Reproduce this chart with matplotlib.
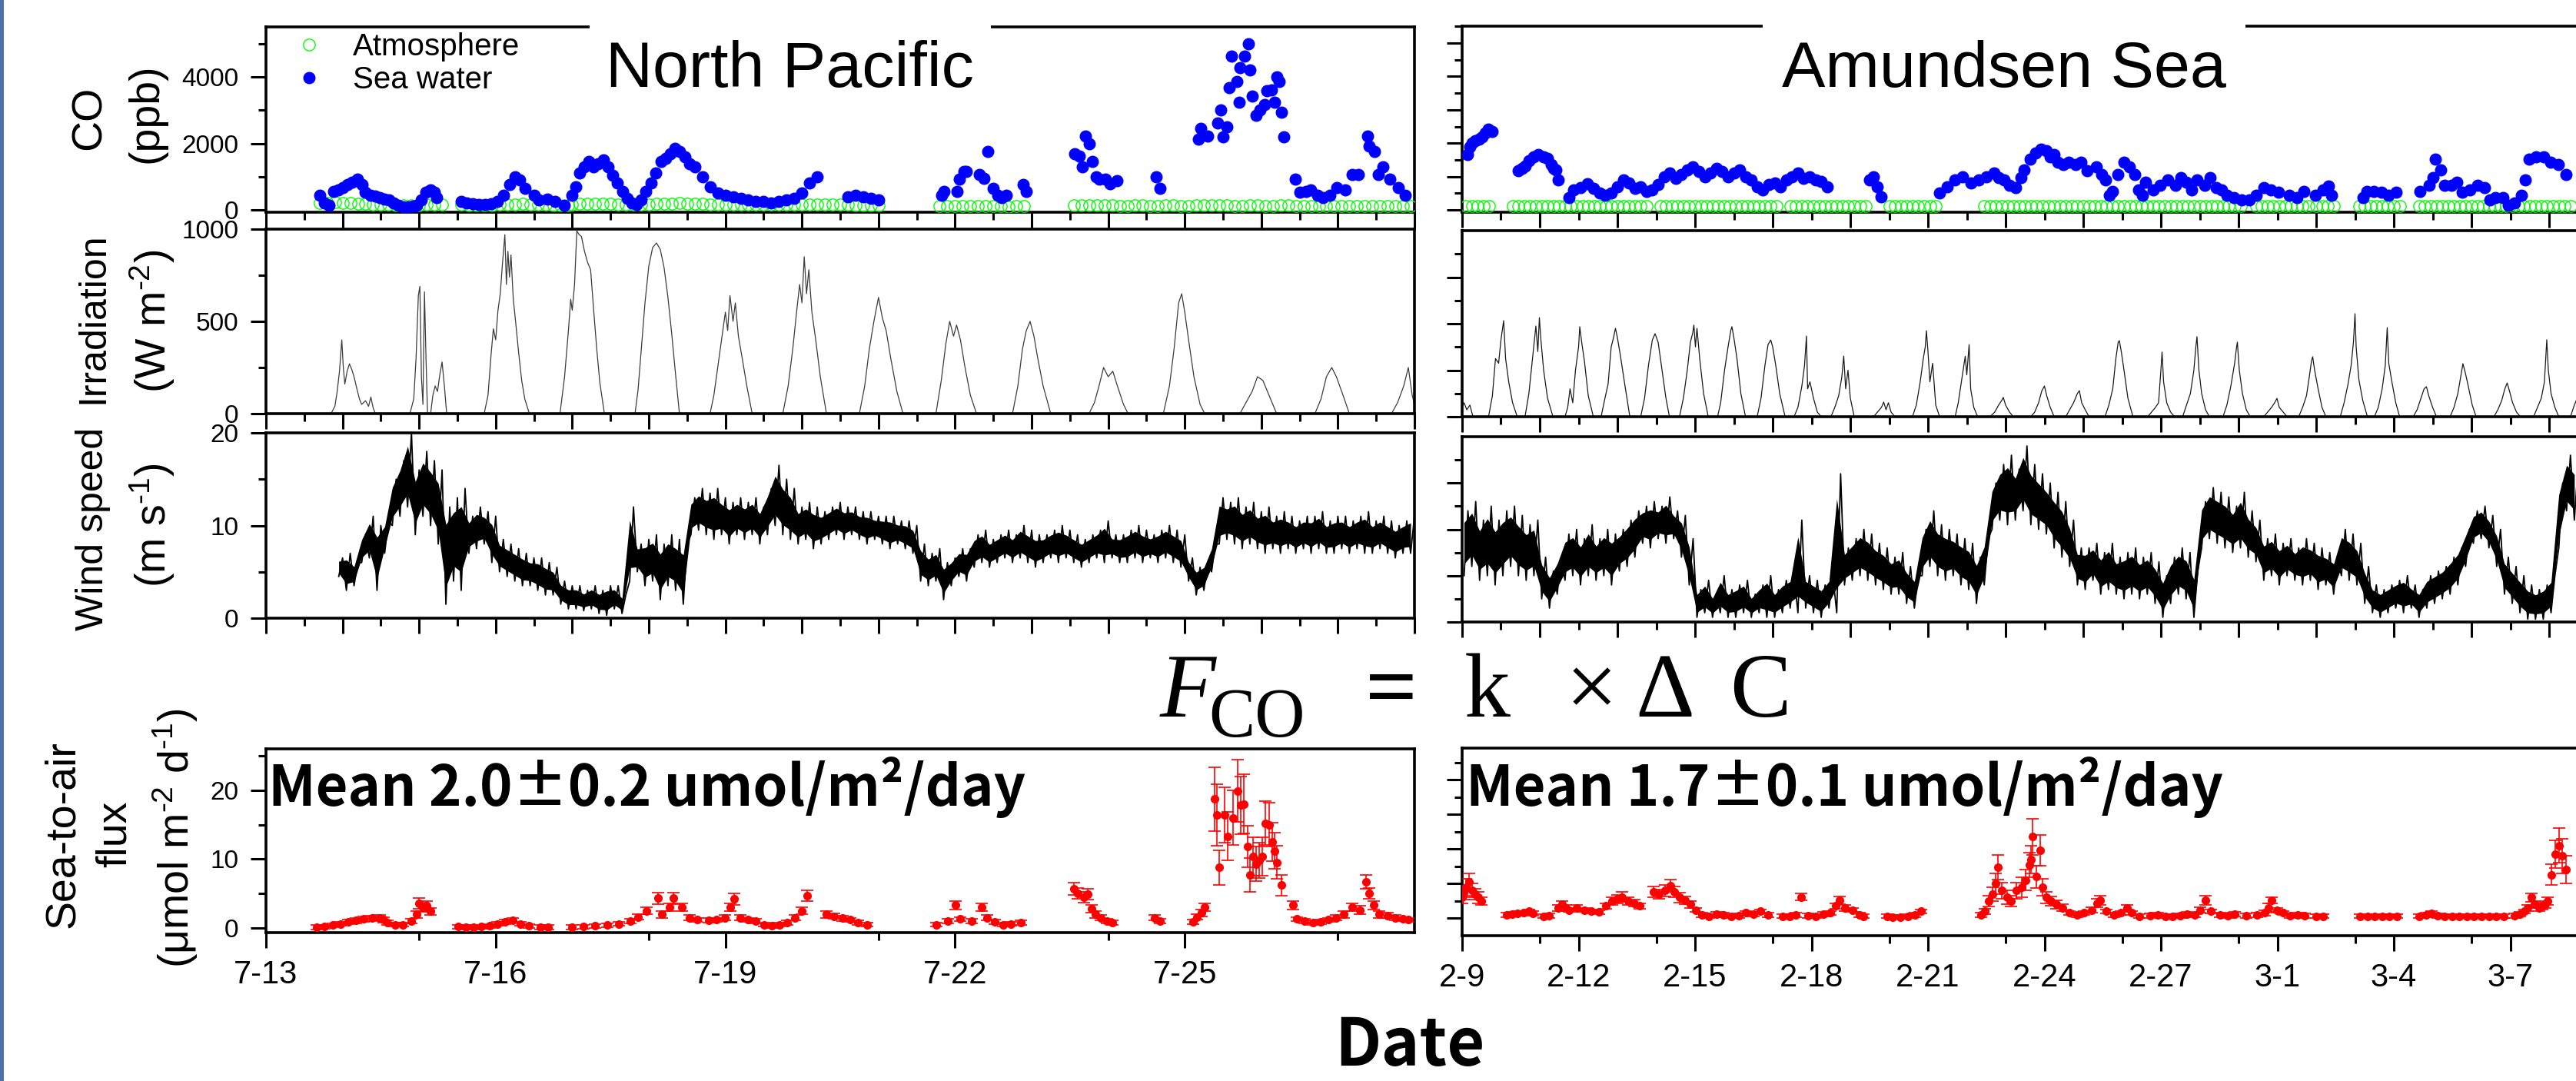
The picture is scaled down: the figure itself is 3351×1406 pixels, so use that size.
import matplotlib
matplotlib.use("Agg")
import matplotlib.pyplot as plt
from matplotlib.lines import Line2D
from matplotlib.patches import Rectangle

plt.rcParams['font.family'] = ['Liberation Sans', 'DejaVu Sans']
plt.rcParams['mathtext.fontset'] = 'custom'
plt.rcParams['mathtext.rm'] = 'Liberation Sans'
plt.rcParams['mathtext.it'] = 'Liberation Sans:italic'
plt.rcParams['mathtext.bf'] = 'Liberation Sans:bold'

# ------------------------------------------------------------------ data
# x values are days after the first tick date of each cruise
np_tick_labels = ['7-13', '7-16', '7-19', '7-22', '7-25']
as_tick_labels = ['2-9', '2-12', '2-15', '2-18', '2-21', '2-24', '2-27', '3-1', '3-4', '3-7']

# CO (ppb) sea water, North Pacific: (day, ppb)
np_co_sea = [(0.70,450),(0.76,217),(0.82,140),(0.88,566),(0.94,605),(1.00,682),(1.06,760),(1.12,837),(1.19,915),(1.25,760),
 (1.30,527),(1.37,450),(1.43,411),(1.49,372),(1.55,333),(1.61,295),(1.67,217),(1.73,140),(1.80,101),(1.86,101),
 (1.92,120),(1.97,140),(2.03,295),(2.09,527),(2.15,605),(2.20,527),(2.23,372),
 (2.55,255),(2.62,200),(2.70,180),(2.78,160),(2.86,170),(2.94,190),(3.02,250),(3.10,450),(3.18,760),(3.25,990),
 (3.31,900),(3.38,643),(3.50,450),(3.56,300),(3.67,333),(3.78,260),(3.90,140),
 (4.00,450),(4.05,700),(4.10,1100),(4.16,1300),(4.22,1450),(4.28,1300),(4.34,1400),(4.41,1500),(4.47,1300),(4.53,1050),
 (4.59,800),(4.66,550),(4.72,350),(4.78,200),(4.84,150),(4.90,300),(4.96,550),(5.03,800),(5.09,1100),(5.16,1450),
 (5.22,1550),(5.28,1700),(5.34,1850),(5.40,1750),(5.47,1600),(5.53,1400),(5.60,1300),(5.70,1000),(5.80,700),(5.90,500),
 (6.00,450),(6.10,400),(6.20,350),(6.30,300),(6.40,250),(6.50,250),(6.60,200),(6.70,250),(6.80,300),(6.90,350),
 (7.00,500),(7.10,800),(7.20,1000),
 (7.60,400),(7.70,450),(7.80,400),(7.90,350),(8.00,300),
 (8.83,450),(8.86,566),(9.03,566),(9.06,915),(9.12,1147),(9.15,1147),(9.32,1070),(9.38,953),(9.43,1767),(9.50,643),
 (9.56,450),(9.61,372),(9.67,450),(9.89,760),(9.93,566),
 (10.56,1690),(10.62,1612),(10.66,1302),(10.70,2232),(10.75,2000),(10.79,1457),(10.84,992),(10.88,915),(10.96,915),(11.02,798),(11.11,876),
 (11.63,990),(11.68,640),
 (12.18,2120),(12.21,2460),(12.30,2230),(12.43,2620),(12.47,3000),(12.50,2190),(12.55,2500),(12.58,3670),(12.61,4630),(12.68,3860),
 (12.71,3240),(12.72,4280),(12.78,4630),(12.83,5000),(12.85,4220),(12.88,3430),(12.93,2850),(12.98,3000),(13.04,3160),(13.07,3590),
 (13.13,3620),(13.17,3240),(13.20,4010),(13.23,3860),(13.26,2930),(13.29,2190),
 (13.44,915),(13.50,530),(13.58,560),(13.64,600),(13.73,450),(13.81,370),(13.90,450),(13.99,680),(14.10,600),(14.19,1070),
 (14.27,1070),(14.39,2230),(14.41,1920),(14.48,1770),(14.53,1070),(14.59,1300),(14.68,915),(14.79,680),(14.88,450)]

# CO (ppb) atmosphere, North Pacific
np_co_atm = [(0.7,200),(0.8,210),(0.9,220),(1.0,210),(1.1,200),(1.2,190),(1.3,180),(1.4,170),(1.5,160),(1.6,150),
 (1.7,140),(1.8,140),(1.9,130),(2.0,130),(2.1,150),(2.2,160),(2.3,170),
 (2.55,150),(2.65,140),(2.75,140),(2.85,130),(2.95,130),(3.05,150),(3.15,160),(3.25,170),(3.35,180),(3.45,170),
 (3.55,160),(3.65,150),(3.75,140),(3.85,130),(3.95,130),
 (4.0,170),(4.1,180),(4.2,190),(4.3,190),(4.4,180),(4.5,180),(4.6,170),(4.7,170),(4.8,160),(4.9,160),
 (5.0,170),(5.1,180),(5.2,190),(5.3,190),(5.4,200),(5.5,190),(5.6,180),(5.7,180),(5.8,170),(5.9,170),
 (6.0,170),(6.1,160),(6.2,160),(6.3,160),(6.4,150),(6.5,150),(6.6,150),(6.7,160),(6.8,160),(6.9,170),
 (7.0,170),(7.1,170),(7.2,160),(7.3,160),(7.4,150),(7.5,150),(7.6,150),(7.7,140),(7.8,140),(7.9,140),(8.0,140),
 (8.8,110),(8.9,110),(9.0,120),(9.1,120),(9.2,110),(9.3,110),(9.4,120),(9.5,110),(9.6,110),(9.7,100),(9.8,110),(9.9,110),
 (10.55,130),(10.65,130),(10.75,140),(10.85,140),(10.95,130),(11.05,130),(11.15,120),(11.25,120),(11.35,130),(11.45,130),
 (11.55,120),(11.65,120),(11.75,130),(11.85,130),(11.95,120),(12.05,120),(12.15,130),(12.25,130),(12.35,140),(12.45,130),
 (12.55,130),(12.65,120),(12.75,120),(12.85,130),(12.95,130),(13.05,120),(13.15,120),(13.25,130),(13.35,130),(13.45,120),
 (13.55,110),(13.65,110),(13.75,120),(13.85,120),(13.95,110),(14.05,110),(14.15,120),(14.25,120),(14.35,110),(14.45,110),
 (14.55,120),(14.65,120),(14.75,110),(14.85,110),(14.95,110)]

# CO (ppb) sea water, Amundsen Sea
as_co_sea = [(0.14,1664),(0.20,1893),(0.26,2008),(0.34,2084),(0.43,2122),(0.52,2200),(0.60,2313),(0.68,2427),(0.77,2350),
 (1.45,1168),(1.55,1250),(1.62,1320),(1.73,1473),(1.85,1600),(1.96,1664),(2.10,1600),(2.20,1550),(2.30,1359),(2.36,1250),(2.42,1206),(2.47,901),
 (2.76,366),(2.88,595),(3.05,672),(3.22,786),(3.39,634),(3.55,500),(3.68,443),(3.85,500),
 (4.00,700),(4.15,900),(4.30,800),(4.45,650),(4.60,700),(4.75,550),(4.90,600),(5.05,750),(5.20,1000),(5.35,1100),
 (5.50,950),(5.65,1050),(5.80,1200),(5.95,1300),(6.10,1150),(6.25,1000),(6.40,1100),(6.55,1250),(6.70,1150),(6.85,1000),
 (7.00,1100),(7.15,1200),(7.30,1000),(7.45,900),(7.60,700),(7.75,600),(7.90,750),(8.05,800),(8.20,700),(8.35,900),
 (8.50,1000),(8.65,1100),(8.80,950),(8.95,1000),(9.10,900),(9.25,850),(9.40,700),
 (10.50,900),(10.60,1000),(10.70,700),(10.80,400),
 (12.30,500),(12.50,700),(12.70,900),(12.90,1000),(13.10,800),(13.30,900),(13.50,1000),(13.70,1100),
 (13.82,977),(13.96,901),(14.10,748),(14.25,672),(14.39,977),(14.48,1206),(14.63,1511),(14.77,1702),(14.91,1817),(15.05,1779),
 (15.15,1588),(15.24,1664),(15.34,1435),(15.48,1359),(15.62,1435),(15.81,1359),(15.95,1435),(16.10,1168),(16.33,1282),(16.48,1053),
 (16.57,901),(16.67,443),(16.76,557),(16.90,1053),(17.04,1435),(17.19,1282),(17.33,1053),(17.42,595),(17.52,443),(17.61,824),
 (17.80,595),(17.99,748),(18.18,901),(18.37,748),(18.51,977),(18.66,824),(18.80,595),(18.94,901),(19.13,748),(19.27,977),
 (19.42,672),(19.56,595),(19.70,443),(19.89,366),(20.08,290),(20.27,290),(20.46,443),(20.65,672),(20.84,595),(21.03,519),
 (21.31,443),(21.50,366),(21.69,557),(21.98,443),(22.17,595),(22.31,710),(22.40,443),
 (23.21,366),(23.30,557),(23.49,557),(23.68,519),(23.87,443),(24.06,519),
 (24.68,557),(24.92,748),(25.01,977),(25.06,1511),(25.20,1206),(25.30,748),(25.49,748),(25.63,824),(25.77,519),(25.96,595),
 (26.15,748),(26.34,672),(26.48,290),(26.62,366),(26.81,366),(26.96,137),(27.10,214),(27.29,443),(27.38,901),(27.48,1511),
 (27.67,1588),(27.86,1588),(28.04,1435),(28.24,1359),(28.43,1053)]

# CO (ppb) atmosphere, Amundsen Sea
as_co_atm = [(0.1,110),(0.25,110),(0.4,120),(0.55,110),(0.7,110),
 (1.3,110),(1.45,120),(1.6,110),(1.75,110),(1.9,120),(2.05,110),(2.2,110),(2.35,120),(2.5,110),(2.65,110),
 (2.8,120),(2.95,110),(3.1,110),(3.25,120),(3.4,110),(3.55,110),(3.7,120),(3.85,110),(4.0,110),(4.15,120),
 (4.3,110),(4.45,110),(4.6,120),(4.75,110),
 (5.1,110),(5.25,120),(5.4,110),(5.55,110),(5.7,120),(5.85,110),(6.0,110),(6.15,120),(6.3,110),(6.45,110),
 (6.6,120),(6.75,110),(6.9,110),(7.05,120),(7.2,110),(7.35,110),(7.5,120),(7.65,110),(7.8,110),(7.95,120),(8.1,110),
 (8.45,110),(8.6,120),(8.75,110),(8.9,110),(9.05,120),(9.2,110),(9.35,110),(9.5,120),(9.65,110),(9.8,110),
 (9.95,120),(10.1,110),(10.25,110),(10.4,120),
 (11.0,110),(11.15,110),(11.3,120),(11.45,110),(11.6,110),(11.75,120),(11.9,110),(12.05,110),(12.2,120),
 (13.45,110),(13.6,110),(13.75,120),(13.9,110),(14.05,110),(14.2,120),(14.35,110),(14.5,110),(14.65,120),(14.8,110),
 (14.95,110),(15.1,120),(15.25,110),(15.4,110),(15.55,120),(15.7,110),(15.85,110),(16.0,120),(16.15,110),
 (16.3,110),(16.45,120),(16.6,110),(16.75,110),(16.9,120),(17.05,110),(17.2,110),(17.35,120),(17.5,110),(17.65,110),
 (17.8,120),(17.95,110),(18.1,110),(18.25,120),(18.4,110),(18.55,110),(18.7,120),(18.85,110),(19.0,110),(19.15,120),
 (19.3,110),(19.45,110),(19.6,120),(19.75,110),(19.9,110),(20.05,120),
 (20.45,110),(20.6,110),(20.75,120),(20.9,110),(21.05,110),(21.2,120),(21.35,110),(21.5,110),(21.65,120),(21.8,110),
 (22.0,110),(22.15,120),(22.3,110),(22.45,110),
 (23.1,110),(23.25,120),(23.4,110),(23.55,110),(23.7,120),(23.85,110),(24.0,110),(24.15,120),
 (24.65,110),(24.8,110),(24.95,120),(25.1,110),(25.25,110),(25.4,120),(25.55,110),(25.7,110),(25.85,120),(26.0,110),
 (26.15,110),(26.3,120),(26.45,110),
 (26.6,110),(26.75,120),(26.9,110),(27.05,110),(27.2,120),(27.35,110),(27.5,110),(27.65,120),(27.8,110),(27.95,110),
 (28.1,120),(28.25,110),(28.4,110),(28.55,120)]

# Irradiation (W m-2): (day, value)
np_irr = [(0.85,0),(0.9,40),(0.93,120),(0.96,230),(0.99,400),(1.01,250),(1.03,160),(1.06,230),(1.09,270),(1.12,240),
 (1.15,200),(1.19,130),(1.22,80),(1.25,50),(1.3,70),(1.34,40),(1.37,90),(1.4,30),(1.43,0),
 (1.88,0),(1.93,80),(1.96,300),(1.99,640),(2.01,690),(2.03,200),(2.05,50),(2.07,660),(2.09,300),(2.11,0),
 (2.15,0),(2.18,100),(2.21,150),(2.24,120),(2.27,210),(2.3,280),(2.33,150),(2.36,0),
 (2.85,0),(2.9,100),(2.94,320),(2.97,460),(3.0,400),(3.03,560),(3.06,650),(3.09,820),(3.12,970),(3.14,700),
 (3.16,880),(3.18,740),(3.2,860),(3.23,620),(3.26,500),(3.3,330),(3.34,180),(3.38,80),(3.44,0),
 (3.84,0),(3.9,200),(3.95,450),(3.98,620),(4.0,560),(4.03,700),(4.06,990),(4.09,970),(4.12,960),(4.16,880),
 (4.2,820),(4.24,780),(4.28,560),(4.32,350),(4.36,170),(4.42,0),
 (4.82,0),(4.86,130),(4.9,340),(4.95,600),(5.0,800),(5.05,900),(5.1,925),(5.15,890),(5.2,790),(5.25,630),
 (5.3,430),(5.35,210),(5.4,0),
 (5.8,0),(5.85,100),(5.9,250),(5.95,400),(6.0,550),(6.03,450),(6.06,640),(6.1,500),(6.13,600),(6.17,420),
 (6.22,300),(6.28,150),(6.35,0),
 (6.75,0),(6.82,150),(6.88,350),(6.93,550),(6.97,700),(7.0,600),(7.03,850),(7.06,650),(7.09,780),(7.13,550),
 (7.18,400),(7.24,200),(7.32,0),
 (7.75,0),(7.82,150),(7.88,350),(7.94,500),(8.0,630),(8.05,520),(8.1,450),(8.16,300),(8.24,120),(8.32,0),
 (8.75,0),(8.82,180),(8.88,380),(8.93,500),(8.98,420),(9.02,480),(9.07,400),(9.13,250),(9.2,100),(9.28,0),
 (9.75,0),(9.82,150),(9.88,350),(9.93,450),(9.98,500),(10.03,420),(10.08,300),(10.15,150),(10.25,0),
 (10.75,0),(10.82,60),(10.88,150),(10.94,250),(11.0,200),(11.06,230),(11.12,150),(11.2,50),(11.26,0),
 (11.72,0),(11.8,150),(11.86,350),(11.92,600),(11.96,650),(12.0,550),(12.05,400),(12.12,200),(12.2,50),(12.26,0),
 (12.72,0),(12.8,60),(12.88,120),(12.95,200),(13.02,180),(13.1,100),(13.2,0),
 (13.7,0),(13.78,80),(13.85,200),(13.92,250),(13.98,200),(14.05,120),(14.15,0),
 (14.7,0),(14.78,60),(14.86,150),(14.92,250),(14.97,100),(15.0,50)]

as_irr = [(0.0,40),(0.05,60),(0.12,30),(0.2,50),(0.28,0),
 (0.68,0),(0.78,90),(0.86,250),(0.94,230),(1.0,330),(1.07,413),(1.12,250),(1.2,150),(1.3,60),(1.42,0),
 (1.62,0),(1.72,100),(1.82,260),(1.9,390),(1.95,280),(1.99,426),(2.03,330),(2.1,200),(2.2,80),(2.34,0),
 (2.65,0),(2.72,40),(2.78,120),(2.85,60),(2.92,200),(3.0,300),(3.03,387),(3.08,320),(3.15,240),(3.25,90),(3.38,0),
 (3.58,0),(3.68,80),(3.76,140),(3.84,300),(3.9,340),(3.95,380),(4.0,340),(4.08,260),(4.18,150),(4.32,0),
 (4.6,0),(4.7,80),(4.8,220),(4.9,330),(4.97,357),(5.05,320),(5.15,200),(5.25,80),(5.34,0),
 (5.6,0),(5.7,80),(5.8,200),(5.88,320),(5.94,360),(5.97,394),(6.01,300),(6.05,380),(6.12,250),(6.22,100),(6.34,0),
 (6.58,0),(6.66,60),(6.76,200),(6.85,300),(6.92,370),(6.95,387),(7.0,340),(7.08,250),(7.18,100),(7.3,0),
 (7.6,0),(7.7,80),(7.8,220),(7.88,310),(7.95,330),(8.0,300),(8.08,220),(8.18,100),(8.32,0),
 (8.55,0),(8.65,40),(8.75,130),(8.82,220),(8.87,347),(8.9,120),(8.96,150),(9.05,80),(9.15,20),(9.25,0),
 (9.5,0),(9.6,40),(9.7,90),(9.78,170),(9.83,261),(9.88,120),(9.94,200),(10.0,80),(10.1,0),
 (10.6,0),(10.7,20),(10.8,40),(10.86,63),(10.92,30),(10.98,60),(11.05,20),(11.15,0),
 (11.6,0),(11.7,50),(11.8,150),(11.88,250),(11.93,300),(11.96,370),(12.0,280),(12.05,150),(12.12,230),(12.2,50),(12.3,0),
 (12.7,0),(12.78,60),(12.86,150),(12.92,220),(12.96,260),(13.0,180),(13.06,310),(13.1,120),(13.18,40),(13.28,0),
 (13.6,0),(13.72,20),(13.82,50),(13.9,70),(13.94,83),(14.0,50),(14.1,20),(14.2,0),
 (14.65,0),(14.75,20),(14.85,60),(14.93,110),(15.0,132),(15.06,90),(15.15,40),(15.25,0),
 (15.55,0),(15.65,30),(15.75,60),(15.85,100),(15.9,112),(15.96,60),(16.05,30),(16.15,0),
 (16.56,0),(16.66,50),(16.76,120),(16.84,250),(16.9,320),(16.93,327),(16.98,280),(17.05,200),(17.15,80),(17.28,0),
 (17.66,0),(17.76,20),(17.86,40),(17.94,60),(18.0,200),(18.03,278),(18.07,150),(18.15,60),(18.25,20),(18.35,0),
 (18.56,0),(18.66,50),(18.76,100),(18.85,200),(18.9,300),(18.93,344),(18.98,200),(19.05,100),(19.15,30),(19.25,0),
 (19.6,0),(19.7,50),(19.8,130),(19.9,230),(19.95,300),(19.97,321),(20.02,200),(20.1,100),(20.2,30),(20.3,0),
 (20.65,0),(20.75,20),(20.85,40),(20.93,60),(20.99,79),(21.05,40),(21.15,20),(21.25,0),
 (21.55,0),(21.65,40),(21.75,90),(21.83,180),(21.88,240),(21.91,258),(21.96,200),(22.05,120),(22.15,40),(22.25,0),
 (22.62,0),(22.72,60),(22.82,140),(22.9,220),(22.96,320),(23.0,443),(23.03,300),(23.1,160),(23.2,70),(23.32,0),
 (23.5,0),(23.6,40),(23.7,120),(23.78,220),(23.83,383),(23.87,230),(23.95,150),(24.05,60),(24.15,0),
 (24.5,0),(24.6,30),(24.7,80),(24.78,120),(24.84,129),(24.9,90),(25.0,40),(25.1,0),
 (25.45,0),(25.55,40),(25.65,100),(25.73,180),(25.78,228),(25.84,190),(25.92,130),(26.02,50),(26.12,0),
 (26.58,0),(26.68,30),(26.78,70),(26.86,120),(26.92,145),(26.98,110),(27.06,60),(27.16,20),(27.26,0),
 (27.6,0),(27.7,40),(27.8,80),(27.88,150),(27.94,331),(27.98,200),(28.05,100),(28.15,40),(28.25,0),
 (28.55,0),(28.65,50),(28.75,90)]

# Wind speed (m s-1): (day, low, high) envelope of the dense record
np_wind = [(0.95,4.5,6.5),(1.05,3,7),(1.15,3.5,6),(1.25,6,9),(1.35,6.5,11),(1.45,3,10),(1.55,7,10.5),
 (1.65,10,15),(1.75,11,17),(1.85,12,20),(1.95,9,16),(2.05,11,18),(2.15,10,17),(2.25,8,16),
 (2.35,1.5,12),(2.45,4,13),(2.55,3,14),(2.65,7,11),(2.75,7.5,12),(2.85,8,11.5),(2.95,6,11),
 (3.05,5,8.5),(3.15,4.5,8),(3.25,4,7.5),(3.35,3.5,7),(3.45,3.5,6.5),(3.55,3,6.5),(3.65,2.5,6),(3.75,2.5,5.5),
 (3.85,1.5,4),(3.95,1,3.5),(4.05,1,3.5),(4.15,0.8,3),(4.25,1,3.5),(4.35,0.5,3),(4.45,0.3,3.5),(4.55,1,3.5),(4.65,0.5,2.5),
 (4.75,4,12),(4.85,5,8),(4.95,3.5,8.5),(5.05,4,9),(5.15,2,8),(5.25,3.5,9),(5.35,3,8.5),(5.45,1.5,8),
 (5.55,9,13),(5.65,9.5,14),(5.75,9,13.5),(5.85,8.5,14),(5.95,9,13),(6.05,8,12.5),(6.15,9,13),(6.25,8.5,12.5),(6.35,9,13),(6.45,8,12),
 (6.55,9,14),(6.65,10,16.5),(6.75,9,15),(6.85,8.5,14),
 (6.95,8,12),(7.05,8.5,12.5),(7.15,7.5,12),(7.25,8,11.5),(7.35,8.5,12),(7.45,9,12.5),(7.55,8.5,12),(7.65,9,12),
 (7.75,8.5,11.5),(7.85,8,11.5),(7.95,8.5,11),(8.05,8,11),(8.15,7.5,11),(8.25,8,10.5),(8.35,7.5,10.5),(8.45,7,10),
 (8.55,4,8),(8.65,3.5,7),(8.75,4,7.5),(8.85,2,6),(8.95,3.5,6.5),(9.05,4.5,7.5),(9.15,4,7.5),
 (9.25,5.5,9),(9.35,6,9.5),(9.45,5.5,8.5),(9.55,6,9),(9.65,6.5,9.5),(9.75,6,9),(9.85,6.5,10),(9.95,6,9.5),
 (10.05,5.5,9),(10.15,6,9),(10.25,6.5,9.5),(10.35,6,10),(10.45,6.5,9.5),(10.55,6,9),(10.65,5.5,8.5),(10.75,6,9),
 (10.85,6.5,9.5),(10.95,6,10.5),(11.05,6.5,9),(11.15,6,9),(11.25,6,9.5),(11.35,6.5,10),(11.45,6,9.5),(11.55,6.5,9),
 (11.65,6,9.5),(11.75,6.5,10),(11.85,6,9.5),(11.95,5.5,9),
 (12.05,4,6.5),(12.15,2.5,5.5),(12.25,3,6),(12.35,5,8),
 (12.45,8,13),(12.55,8.5,12.5),(12.65,8,13),(12.75,7.5,12),(12.85,8,12.5),(12.95,7.5,11.5),(13.05,7,12),(13.15,7.5,11),
 (13.25,7,11.5),(13.35,7.5,11),(13.45,7,10.5),(13.55,7.5,11),(13.65,7,11),(13.75,7.5,11.5),(13.85,7,10.5),(13.95,7,11),
 (14.05,7.5,11),(14.15,7,10.5),(14.25,7.5,11),(14.35,7,11.5),(14.45,7,10.5),(14.55,7.5,11),(14.65,7,10.5),(14.75,6.5,10),
 (14.85,7,10.5),(14.95,7,11)]

as_wind = [(0.05,5,12),(0.25,6,13),(0.45,4.5,11),(0.65,5,12.5),(0.85,4,11),(1.05,5,12),(1.25,6,12.5),(1.45,5,11.5),(1.65,4.5,10.5),(1.85,5,11),
 (2.05,2.5,7),(2.25,1.5,5.5),(2.45,3,7),
 (2.65,4.5,9.5),(2.85,5,10),(3.05,4,9),(3.25,5,10.5),(3.45,4.5,9),(3.65,5,10),(3.85,4,9.5),(4.05,5.5,10),(4.25,6,11),(4.45,7,12),
 (4.65,8.5,12.5),(4.85,8,13),(5.05,9,12.5),(5.25,8.5,13.5),(5.45,9,12),(5.65,7,11.5),(5.85,4,9),
 (6.05,0.5,3.5),(6.25,1,4.5),(6.45,0.5,3),(6.65,1,5),(6.85,0.5,3.5),(7.05,0.5,4),(7.25,1,4.5),(7.45,0.5,3),(7.65,1,4),(7.85,0.5,5),
 (8.05,0.5,3.5),(8.25,1,4.5),(8.45,1.5,5),(8.65,1,11),(8.85,1.5,5),(9.05,1,4.5),(9.25,0.5,4),(9.45,1.5,5),(9.65,1,16),
 (9.85,4,8),(10.05,4.5,9),(10.25,5,10),(10.45,4.5,9.5),(10.65,4,8.5),(10.85,3.5,8),(11.05,3,7),(11.25,3,7.5),(11.45,2,6),(11.65,1.5,5),
 (11.85,5,10),(12.05,6,12),(12.25,5,10.5),(12.45,4.5,10),(12.65,5,9.5),(12.85,4,9),(13.05,3.5,8.5),(13.25,2,7),(13.45,4,9),
 (13.65,10,15),(13.85,11,17),(14.05,10.5,18),(14.25,11,16.5),(14.45,12,19),(14.65,10.5,17),(14.85,10,16),(15.05,9.5,15),(15.25,8,14),(15.45,7,13),(15.65,6,11),
 (15.85,4,8),(16.05,3.5,8),(16.25,4.5,8.5),(16.45,3,7.5),(16.65,3.5,8.5),(16.85,3,7),(17.05,2.5,7.5),(17.25,3,8),
 (17.45,2.5,7),(17.65,3,7.5),(17.85,2,6.5),(18.05,0.5,5),(18.25,2,7),(18.45,3,8),(18.65,2.5,7.5),(18.85,0.5,5.5),
 (19.05,8,13),(19.25,9,14.5),(19.45,8.5,14),(19.65,8,13.5),(19.85,7.5,12.5),(20.05,8,14),(20.25,7,12),(20.45,6.5,11),
 (20.65,4.5,9),(20.85,5,9.5),(21.05,4,8.5),(21.25,5,9),(21.45,4.5,8),(21.65,4,9),(21.85,4.5,8.5),(22.05,3.5,8),(22.25,4,7.5),(22.45,3,7),
 (22.65,5,10),(22.85,4.5,9.5),(23.05,4,8.5),(23.25,2,6),
 (23.45,1,4),(23.65,0.5,3.5),(23.85,1,4),(24.05,1.5,4.5),(24.25,1,5),(24.45,1.5,4),(24.65,0.5,3.5),(24.85,1.5,5),
 (25.05,2,5.5),(25.25,2.5,6),(25.45,3,7),(25.65,4,8),(25.85,6,10),
 (26.05,8.5,12),(26.25,9,12.5),(26.45,8,11.5),(26.65,6,10),
 (26.85,3,7),(27.05,2,6),(27.25,1,5),(27.45,0.3,4),(27.65,0.3,3.5),(27.85,0.3,4),(28.05,1,5),
 (28.25,8,15),(28.45,12,18),(28.65,11,17)]

# Sea-to-air flux (umol m-2 d-1): (day, flux, error)
np_flux = [(0.665,0.1,0.3),(0.767,0.2,0.3),(0.869,0.4,0.3),(0.972,0.6,0.3),(1.074,0.9,0.3),(1.177,1.1,0.4),(1.279,1.3,0.4),
 (1.381,1.4,0.4),(1.484,1.5,0.4),(1.535,1.2,0.4),(1.586,0.8,0.3),(1.689,0.5,0.3),(1.791,0.5,0.3),(1.894,1.0,0.3),
 (1.965,2.0,0.5),(1.996,3.6,0.8),(2.047,3.0,0.7),(2.098,3.2,0.7),(2.15,2.4,0.5),
 (2.508,0.2,0.3),(2.61,0.1,0.3),(2.713,0.1,0.3),(2.815,0.2,0.3),(2.917,0.3,0.3),(3.02,0.6,0.3),(3.122,0.9,0.3),
 (3.224,1.1,0.3),(3.327,0.6,0.3),(3.43,0.3,0.3),(3.583,0.1,0.3),(3.686,0.1,0.3),
 (3.993,0.1,0.3),(4.146,0.2,0.3),(4.3,0.3,0.3),(4.454,0.4,0.3),(4.607,0.6,0.3),(4.761,1.0,0.3),(4.863,1.6,0.4),
 (4.966,2.5,0.5),(5.12,4.3,0.8),(5.171,2.0,0.5),(5.273,3.0,0.6),(5.324,4.3,0.8),(5.427,3.0,0.6),(5.529,1.5,0.4),
 (5.632,1.2,0.3),(5.785,1.1,0.3),(5.888,1.2,0.3),(5.99,1.5,0.4),(6.062,3.0,0.6),(6.113,4.2,0.8),(6.195,1.5,0.4),
 (6.297,1.2,0.3),(6.4,1.0,0.3),(6.502,0.5,0.3),(6.604,0.3,0.3),(6.707,0.5,0.3),(6.809,0.8,0.3),(6.912,1.5,0.4),
 (6.993,2.5,0.5),(7.065,4.7,0.8),(7.321,2.0,0.5),(7.424,1.7,0.4),(7.526,1.4,0.4),(7.628,1.2,0.3),(7.731,0.8,0.3),(7.854,0.5,0.3),
 (8.755,0.5,0.3),(8.909,1.0,0.3),(9.011,3.3,0.6),(9.062,1.3,0.3),(9.216,1.0,0.3),(9.349,3.0,0.6),(9.421,1.5,0.4),
 (9.523,0.9,0.3),(9.626,0.5,0.3),(9.728,0.6,0.3),(9.861,0.8,0.3),
 (10.548,5.7,0.9),(10.6,5.0,0.8),(10.68,4.5,0.8),(10.732,4.9,0.8),(10.783,2.8,0.6),(10.834,2.0,0.5),(10.906,1.5,0.4),(10.988,1.0,0.3),(11.059,0.8,0.3),
 (11.602,1.5,0.4),(11.674,1.0,0.3),
 (12.104,0.9,0.3),(12.155,1.6,0.4),(12.217,2.2,0.5),(12.258,3.0,0.6),
 (12.391,18.7,4.6),(12.422,16.4,4.5),(12.452,8.8,2.5),(12.524,16.4,4.0),(12.565,13.3,3.5),(12.627,16.0,4.0),(12.688,19.9,4.5),
 (12.729,17.8,4.2),(12.77,18.0,4.3),(12.821,11.8,3.0),(12.852,7.7,2.5),(12.893,10.4,2.8),(12.934,9.3,2.5),(12.975,9.8,2.6),
 (13.016,10.4,2.8),(13.057,15.2,3.2),(13.098,15.0,3.2),(13.139,12.5,2.8),(13.169,11.2,2.6),(13.2,9.5,2.4),(13.262,6.2,1.5),
 (13.415,3.3,0.6),
 (13.466,1.3,0.3),(13.569,1.0,0.3),(13.671,0.8,0.3),(13.774,0.9,0.3),(13.876,1.2,0.3),(13.978,1.5,0.4),(14.081,2.0,0.5),
 (14.183,3.0,0.6),(14.286,2.6,0.6),(14.368,6.7,1.0),(14.409,5.0,0.8),(14.47,3.3,0.6),(14.542,2.0,0.5),(14.644,1.8,0.4),
 (14.747,1.5,0.4),(14.849,1.3,0.3),(14.921,1.2,0.3)]

as_flux = [(0.0,3.0,0.8),(0.031,3.7,1.0),(0.107,4.5,1.2),(0.183,5.3,1.2),(0.259,4.0,1.0),(0.334,3.5,0.8),(0.41,3.0,0.8),(0.486,2.5,0.6),
 (1.149,0.5,0.3),(1.282,0.6,0.3),(1.434,0.7,0.3),(1.585,0.8,0.3),(1.718,1.0,0.3),(1.813,0.7,0.3),
 (2.097,0.3,0.3),(2.229,0.4,0.3),
 (2.476,1.5,0.4),(2.571,2.0,0.5),(2.665,1.5,0.4),(2.76,1.2,0.3),(2.95,1.5,0.4),(3.139,1.2,0.3),(3.329,1.0,0.3),(3.518,0.9,0.3),
 (3.708,1.8,0.4),(3.859,2.5,0.6),(3.992,2.8,0.6),(4.125,3.1,0.7),(4.276,2.5,0.6),(4.428,2.2,0.5),(4.58,1.8,0.4),
 (4.94,3.8,0.8),(5.072,3.5,0.7),(5.224,4.0,0.8),(5.357,4.7,0.9),(5.47,3.8,0.8),(5.603,3.0,0.7),(5.736,2.6,0.6),(5.887,2.0,0.5),
 (6.02,1.2,0.3),(6.171,0.5,0.3),(6.361,0.3,0.3),(6.55,0.6,0.3),(6.74,0.5,0.3),(6.929,0.3,0.3),(7.119,0.4,0.3),(7.308,0.8,0.3),
 (7.498,0.6,0.3),(7.687,1.0,0.3),(7.877,0.5,0.3),
 (8.256,0.3,0.3),(8.445,0.3,0.3),(8.597,0.5,0.3),(8.729,3.1,0.5),(8.919,0.4,0.3),(9.108,0.3,0.3),(9.298,0.6,0.3),(9.487,0.8,0.3),
 (9.62,1.8,0.4),(9.715,2.6,0.6),(9.866,1.5,0.4),(10.056,1.2,0.3),(10.245,0.5,0.3),(10.34,0.3,0.3),
 (10.947,0.3,0.3),(11.098,0.2,0.3),(11.288,0.2,0.3),(11.477,0.3,0.3),(11.667,0.5,0.3),(11.818,1.0,0.3),
 (13.372,0.5,0.3),(13.467,1.0,0.4),(13.562,2.5,0.8),(13.656,3.5,1.0),(13.751,5.0,1.5),(13.808,7.4,1.8),(13.903,4.0,1.2),
 (14.036,3.0,1.0),(14.13,2.5,0.8),(14.282,4.0,1.2),(14.415,4.5,1.4),(14.509,5.5,1.5),(14.604,7.7,1.8),(14.661,8.5,2.0),
 (14.699,11.8,2.6),(14.793,6.0,1.6),(14.888,9.8,2.2),(14.945,4.5,1.2),(15.04,3.0,0.8),(15.172,2.5,0.7),(15.305,2.0,0.6),
 (15.457,1.5,0.5),(15.646,0.8,0.3),(15.836,0.5,0.3),(16.025,0.8,0.3),(16.215,1.2,0.4),(16.366,2.2,0.6),(16.442,2.6,0.7),
 (16.594,1.0,0.3),(16.783,0.5,0.3),(16.973,0.8,0.3),(17.124,1.5,0.4),(17.257,0.8,0.3),(17.446,0.3,0.3),(17.731,0.4,0.3),
 (17.92,0.5,0.3),(18.11,0.3,0.3),(18.299,0.3,0.3),(18.489,0.4,0.3),(18.678,0.6,0.3),(18.868,0.5,0.3),(19.019,1.2,0.4),
 (19.152,2.6,0.7),(19.285,1.0,0.3),(19.531,0.5,0.3),(19.72,0.4,0.3),(19.91,0.6,0.3),(20.194,0.4,0.3),(20.479,0.5,0.3),
 (20.668,0.8,0.4),(20.763,1.5,0.7),(20.858,2.6,0.4),(20.99,1.2,0.3),(21.142,0.8,0.3),(21.331,0.4,0.3),(21.521,0.5,0.3),
 (21.71,0.4,0.3),(21.994,0.3,0.3),(22.184,0.3,0.3),
 (23.131,0.3,0.3),(23.321,0.3,0.3),(23.51,0.3,0.3),(23.7,0.3,0.3),(23.889,0.3,0.3),(24.079,0.3,0.3),
 (24.647,0.3,0.3),(24.837,0.5,0.3),(24.97,0.7,0.3),(25.121,0.4,0.3),(25.311,0.3,0.3),(25.5,0.3,0.3),(25.69,0.3,0.3),
 (25.879,0.3,0.3),(26.069,0.3,0.3),(26.258,0.3,0.3),(26.448,0.3,0.3),(26.637,0.3,0.3),(26.827,0.3,0.3),
 (27.111,0.4,0.3),(27.244,0.6,0.3),(27.357,1.0,0.3),(27.452,1.5,0.4),(27.547,3.0,0.6),(27.623,2.0,0.5),(27.737,1.5,0.4),
 (27.812,1.8,0.5),(27.907,2.0,0.5),(27.964,2.5,0.6),
 (28.059,6.3,1.5),(28.154,9.3,2.0),(28.248,10.5,2.5),(28.343,9.0,2.5),(28.438,7.1,2.0)]

# ------------------------------------------------------------------ figure
W, H, DPI = 3351, 1406, 100
fig = plt.figure(figsize=(W / DPI, H / DPI), dpi=DPI)
fig.patch.set_facecolor('white')


def fx(x):
    return x / W


def fy(y):
    return 1 - y / H


def add_ax(x0, y0, x1, y1):
    return fig.add_axes([x0 / W, 1 - y1 / H, (x1 - x0) / W, (y1 - y0) / H])


def style(ax, xlim, ylim, xmaj, xmin, ymaj, ymin, ylabels=True, xlabels=None):
    ax.set_xlim(*xlim)
    ax.set_ylim(*ylim)
    ax.set_xticks(xmaj)
    ax.set_xticks(xmin, minor=True)
    ax.set_yticks(ymaj)
    ax.set_yticks(ymin, minor=True)
    for s in ax.spines.values():
        s.set_linewidth(2.6)
    ax.tick_params(which='both', direction='out', width=2.2, top=False, right=False, colors='black')
    ax.tick_params(which='major', length=14.5)
    ax.tick_params(which='minor', length=7.5)
    ax.tick_params(axis='y', labelsize=24, pad=11)
    if not ylabels:
        ax.set_yticklabels([])
    if xlabels is None:
        ax.set_xticklabels([])
    else:
        ax.set_xticklabels(xlabels)
        ax.tick_params(axis='x', labelsize=30, pad=11)


def col(data, i):
    return [d[i] for d in data]


LX0, LX1 = 346, 1840
RX0, RX1 = 1902, 1902 + 29 * 50.5

# --- CO panels
axc_l = add_ax(LX0, 35, LX1, 276)
axc_r = add_ax(RX0, 34, RX1, 276)
for ax, atm, sea in [(axc_l, np_co_atm, np_co_sea), (axc_r, as_co_atm, as_co_sea)]:
    ax.plot(col(atm, 0), col(atm, 1), 'o', mfc='none', mec='#00FF00', mew=1.0, ms=11, zorder=3)
    ax.plot(col(sea, 0), col(sea, 1), 'o', color='#0000FF', mec='#0000FF', ms=10.5, zorder=4)
style(axc_l, (0, 15), (-70, 5510), list(range(0, 16)), [i + 0.5 for i in range(15)],
      [0, 2000, 4000], [1000, 3000, 5000])
style(axc_r, (0, 29), (-70, 5510), list(range(0, 30, 2)), list(range(1, 30, 2)),
      [0, 1000, 2000, 3000, 4000, 5000], [500, 1500, 2500, 3500, 4500, 5500], ylabels=False)

axc_l.text((1028 - LX0) / (LX1 - LX0), (276 - 113) / 241, 'North Pacific', fontsize=60.8,
           ha='center', va='baseline', transform=axc_l.transAxes, zorder=10, clip_on=False,
           bbox=dict(boxstyle='square,pad=0.25', fc='white', ec='none'))
axc_r.text((2607 - RX0) / (RX1 - RX0), (276 - 113) / 242, 'Amundsen Sea', fontsize=60.8,
           ha='center', va='baseline', transform=axc_r.transAxes, zorder=10, clip_on=False,
           bbox=dict(boxstyle='square,pad=0.3', fc='white', ec='none'))

handles = [Line2D([], [], ls='', marker='o', mfc='none', mec='#00FF00', mew=1.0, ms=11),
           Line2D([], [], ls='', marker='o', color='#0000FF', ms=10.5)]
fig.legend(handles, ['Atmosphere', 'Sea water'], loc='upper left',
           bbox_to_anchor=(fx(382), fy(42)), bbox_transform=fig.transFigure,
           frameon=False, fontsize=29, handlelength=1.0, handletextpad=0.9,
           labelspacing=0.12, borderpad=0, borderaxespad=0)

# --- Irradiation
axi_l = add_ax(LX0, 298, LX1, 538)
axi_r = add_ax(RX0, 300, RX1, 542)
axi_l.plot(col(np_irr, 0), col(np_irr, 1), color='#3c3c3c', lw=0.9)
axi_r.plot(col(as_irr, 0), col(as_irr, 1), color='#1a1a1a', lw=0.9)
style(axi_l, (0, 15), (0, 1000), list(range(0, 16)), [i + 0.5 for i in range(15)],
      [0, 500, 1000], [250, 750])
style(axi_r, (0, 29), (0, 800), list(range(0, 30, 2)), list(range(1, 30, 2)),
      [0, 200, 400, 600], [100, 300, 500, 700], ylabels=False)

# --- Wind speed (dense record drawn as a zig-zag through its low/high envelope)
axw_l = add_ax(LX0, 563, LX1, 804)
axw_r = add_ax(RX0, 568, RX1, 809)
for ax, data, half in [(axw_l, np_wind, 0.05), (axw_r, as_wind, 0.1)]:
    t, lo, hi = col(data, 0), col(data, 1), col(data, 2)
    ax.fill_between(t, [(a + b) / 2 - (b - a) * 0.32 for a, b in zip(lo, hi)],
                    [(a + b) / 2 + (b - a) * 0.32 for a, b in zip(lo, hi)], color='black', lw=0)
    zx, zy = [], []
    for ti, l, h in data:
        zx += [ti, ti + half]
        zy += [l, h]
    ax.plot(zx, zy, color='black', lw=1.3)
style(axw_l, (0, 15), (0, 20), list(range(0, 16)), [i + 0.5 for i in range(15)],
      [0, 10, 20], [5, 15])
style(axw_r, (0, 29), (0, 20), list(range(0, 30, 2)), list(range(1, 30, 2)),
      [0, 5, 10, 15], [2.5, 7.5, 12.5, 17.5], ylabels=False)

# --- Flux
axf_l = add_ax(LX0, 974, LX1, 1213)
axf_r = add_ax(RX0, 973, RX1, 1217)
for ax, data in [(axf_l, np_flux), (axf_r, as_flux)]:
    ax.errorbar(col(data, 0), col(data, 1), yerr=col(data, 2), fmt='o', color='#FF0000',
                ms=7, elinewidth=1.2, capsize=5.5, capthick=1.2, zorder=3)
style(axf_l, (0, 15), (-0.67, 26), [0, 3, 6, 9, 12], [2, 5, 8, 11, 14],
      [0, 10, 20], [5, 15, 25], xlabels=np_tick_labels)
style(axf_r, (0, 29), (-2.5, 24.6), list(range(0, 28, 3)), list(range(2, 29, 3)),
      [0, 5, 10, 15, 20], [2.5, 7.5, 12.5, 17.5, 22.5], ylabels=False, xlabels=as_tick_labels)

mean_font = ['Noto Sans CJK KR', 'DejaVu Sans']
fig.text(fx(349), fy(1048), 'Mean 2.0\u00b10.2 umol/m\u00b2/day', family=mean_font,
         fontweight='bold', fontsize=52, ha='left', va='baseline')
fig.text(fx(1907), fy(1048), 'Mean 1.7\u00b10.1 umol/m\u00b2/day', family=mean_font,
         fontweight='bold', fontsize=52, ha='left', va='baseline')

# --- y labels
ylab = dict(fontsize=40, rotation=90, ha='center', va='center')
ylab2 = dict(fontsize=36, rotation=90, ha='center', va='center')
fig.text(fx(117), fy(153), 'CO', **ylab)
fig.text(fx(191), fy(147), '(ppb)', **ylab)
fig.text(fx(121), fy(414), 'Irradiation', **ylab2)
fig.text(fx(198), fy(418), '(W m$^{\\text{-}2}$)', **ylab)
fig.text(fx(121), fy(688), 'Wind speed', **ylab2)
fig.text(fx(198), fy(683), '(m s$^{\\text{-}1}$)', **ylab)
fig.text(fx(82), fy(1085), 'Sea-to-air', **ylab)
fig.text(fx(150), fy(1085), 'flux', **ylab)
fig.text(fx(228), fy(1090), '(\u03bcmol m$^{\\text{-}2}$ d$^{\\text{-}1}$)', **ylab)

# --- formula
serif = ['Liberation Serif', 'DejaVu Serif']
fig.text(fx(1509), fy(932), 'F', family=serif, style='italic', fontsize=86, ha='left', va='baseline')
fig.text(fx(1572), fy(958), 'CO', family=serif, fontsize=65, ha='left', va='baseline')
fig.text(fx(1776), fy(932), '=', family=serif, fontweight='bold', fontsize=86, ha='left', va='baseline')
fig.text(fx(1905), fy(932), 'k', family=serif, fontsize=86, ha='left', va='baseline')
fig.text(fx(2037), fy(932), '\u00d7', family=serif, fontsize=86, ha='left', va='baseline')
fig.text(fx(2129), fy(932), '\u2206', family=serif, fontsize=86, ha='left', va='baseline')
fig.text(fx(2250), fy(932), 'C', family=serif, fontsize=86, ha='left', va='baseline')

# --- x label
fig.text(fx(1834), fy(1361), 'Date', family=mean_font, fontweight='bold', fontsize=61,
         ha='center', va='center')

# --- left border strip
fig.add_artist(Rectangle((0, 0), 5 / W, 1, transform=fig.transFigure,
                         facecolor='#4F72A6', edgecolor='none'))

fig.savefig('out.png', dpi=DPI, facecolor='white')
